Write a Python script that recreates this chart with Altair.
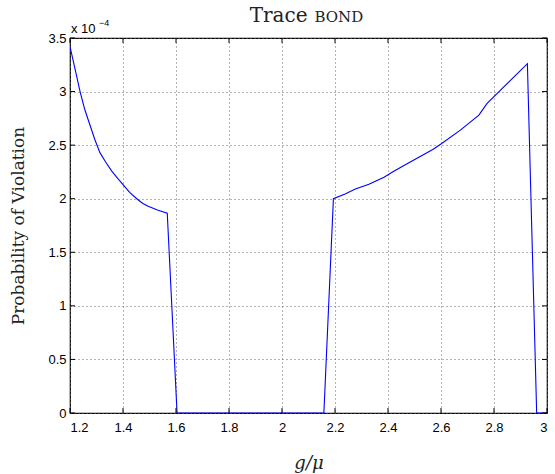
import altair as alt
import pandas as pd

# Probability of violation (in units of 1e-4) against g/mu
g_over_mu = [1.2, 1.22, 1.238, 1.256, 1.275, 1.294, 1.313, 1.335, 1.357, 1.38,
             1.401, 1.425, 1.452, 1.475, 1.495, 1.53, 1.567, 1.604,
             2.158, 2.194, 2.238, 2.277, 2.328, 2.385, 2.417, 2.467, 2.518, 2.569,
             2.6, 2.673, 2.743, 2.774, 2.819, 2.889, 2.926, 2.961, 3.0]
p_violation = [3.42, 3.2, 3.0, 2.83, 2.69, 2.55, 2.43, 2.34, 2.26, 2.19,
               2.13, 2.06, 2.0, 1.955, 1.93, 1.895, 1.865, 0.0,
               0.0, 2.0, 2.045, 2.09, 2.135, 2.2, 2.25, 2.32, 2.39, 2.46,
               2.51, 2.64, 2.78, 2.89, 3.0, 3.17, 3.26, 0.0, 0.0]

x_ticks = [1.2, 1.4, 1.6, 1.8, 2.0, 2.2, 2.4, 2.6, 2.8, 3.0]
y_ticks = [0, 0.5, 1, 1.5, 2, 2.5, 3, 3.5]

W, H = 477, 375

df = pd.DataFrame({"x": g_over_mu, "y": p_violation, "i": range(len(g_over_mu))})
xt = pd.DataFrame({"x": x_ticks})
yt = pd.DataFrame({"y": y_ticks})

x_scale = alt.Scale(domain=[1.2, 3.0], nice=False, zero=False)
y_scale = alt.Scale(domain=[0, 3.5], nice=False)

grid_axis = dict(grid=True, gridColor="#666", gridDash=[1, 3], gridWidth=1,
                 domain=False, ticks=False, labelFont="Liberation Sans",
                 labelFontSize=13, labelColor="#000", format="~g")

line = alt.Chart(df).mark_line(color="#0000ff", strokeWidth=1.1, clip=True).encode(
    x=alt.X("x:Q", scale=x_scale,
            axis=alt.Axis(values=x_ticks, title="g/μ", titleFont="DejaVu Serif",
                          titleFontStyle="italic", titleFontWeight="normal",
                          titleFontSize=18, titlePadding=20, titleColor="#222",
                          labelPadding=8, **grid_axis)),
    y=alt.Y("y:Q", scale=y_scale,
            axis=alt.Axis(values=y_ticks, title="Probability of Violation",
                          titleFont="DejaVu Serif", titleFontWeight="normal",
                          titleFontSize=17, titlePadding=20, titleColor="#222",
                          labelPadding=4, **grid_axis)),
    order="i:Q",
)

# inward tick marks on all four sides
tick_bottom = alt.Chart(xt).mark_rule(color="#000").encode(
    x=alt.X("x:Q", scale=x_scale), y=alt.value(H), y2=alt.value(H - 5))
tick_top = alt.Chart(xt).mark_rule(color="#000").encode(
    x=alt.X("x:Q", scale=x_scale), y=alt.value(0), y2=alt.value(5))
tick_left = alt.Chart(yt).mark_rule(color="#000").encode(
    y=alt.Y("y:Q", scale=y_scale), x=alt.value(0), x2=alt.value(5))
tick_right = alt.Chart(yt).mark_rule(color="#000").encode(
    y=alt.Y("y:Q", scale=y_scale), x=alt.value(W), x2=alt.value(W - 5))

# exponent multiplier above the y axis
mult = alt.Chart(pd.DataFrame({"t": ["x 10"]})).mark_text(
    align="left", baseline="alphabetic", font="Liberation Sans", fontSize=13, color="#000"
).encode(text="t:N", x=alt.value(1), y=alt.value(-5))
expo = alt.Chart(pd.DataFrame({"t": ["−4"]})).mark_text(
    align="left", baseline="alphabetic", font="Liberation Sans", fontSize=9, color="#000"
).encode(text="t:N", x=alt.value(29), y=alt.value(-12))

# title: "Trace" followed by small-caps "BOND"
t1 = alt.Chart(pd.DataFrame({"t": ["Trace"]})).mark_text(
    align="right", baseline="alphabetic", font="DejaVu Serif", fontSize=20, color="#222"
).encode(text="t:N", x=alt.value(W / 2 - 1), y=alt.value(-16))
t2 = alt.Chart(pd.DataFrame({"t": ["BOND"]})).mark_text(
    align="left", baseline="alphabetic", font="DejaVu Serif", fontSize=15, color="#222"
).encode(text="t:N", x=alt.value(W / 2 + 6), y=alt.value(-16))

chart = alt.layer(line, tick_bottom, tick_top, tick_left, tick_right, mult, expo, t1, t2).properties(
    width=W, height=H,
    autosize=alt.AutoSizeParams(type="none"),
    padding={"left": 70, "top": 38, "right": 8, "bottom": 61},
    background="white",
).configure_view(stroke="#000", strokeWidth=1.2)

chart.save("out.html", embed_options={"renderer": "svg", "actions": False})
